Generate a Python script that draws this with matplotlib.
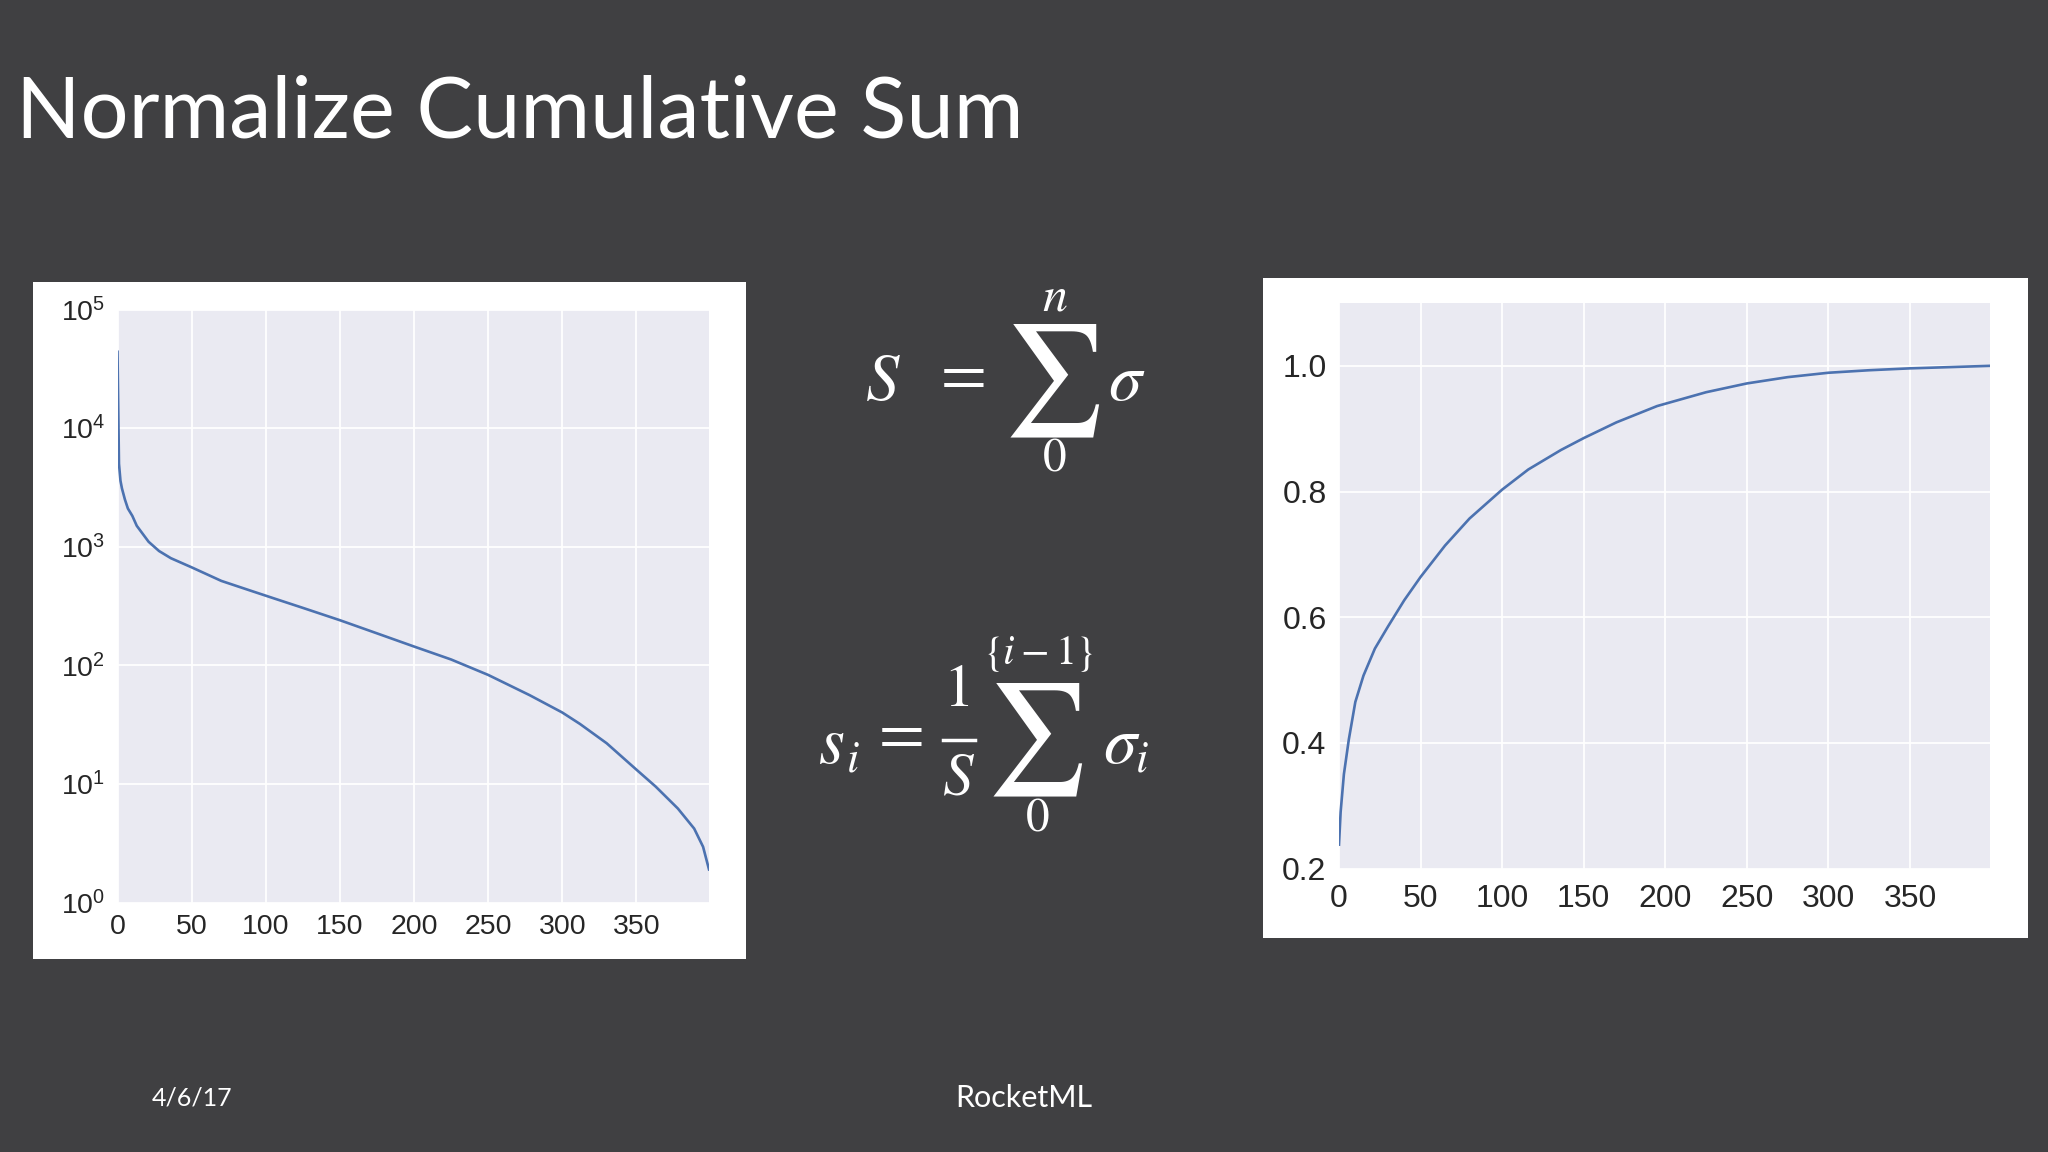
import matplotlib
matplotlib.use('Agg')
import matplotlib.pyplot as plt
from matplotlib.patches import Rectangle
from matplotlib.ticker import FixedLocator, NullLocator

# singular values (left, log scale)
sv_x = [0, 1, 2, 3, 5, 7, 10, 13, 21, 28, 36, 50, 70, 90, 106, 125, 150, 175,
        200, 225, 250, 278, 300, 312, 330, 350, 363, 378, 389, 395, 399]
sv_y = [44000, 5000, 3600, 3100, 2500, 2100, 1820, 1500, 1100, 920, 800, 670,
        515, 425, 365, 305, 240, 186, 144, 112, 83, 56, 40, 32, 22, 13.2, 9.5,
        6.2, 4.2, 2.95, 1.9]

# normalized cumulative sum (right)
cs_x = [0, 1, 3, 6, 10, 15, 22, 30, 40, 50, 65, 80, 100, 116, 136, 150, 170,
        195, 225, 250, 275, 300, 325, 350, 375, 399]
cs_y = [0.238, 0.29, 0.35, 0.405, 0.465, 0.507, 0.55, 0.585, 0.627, 0.664,
        0.714, 0.757, 0.803, 0.835, 0.866, 0.885, 0.910, 0.936, 0.958, 0.972,
        0.982, 0.989, 0.993, 0.996, 0.998, 1.0]

x_ticks = [0, 50, 100, 150, 200, 250, 300, 350]
log_ticks = [1, 10, 100, 1000, 10000, 100000]
log_labels = [r'$10^{0}$', r'$10^{1}$', r'$10^{2}$', r'$10^{3}$', r'$10^{4}$', r'$10^{5}$']
cs_ticks = [0.2, 0.4, 0.6, 0.8, 1.0]
cs_labels = ['0.2', '0.4', '0.6', '0.8', '1.0']

W, H = 2048, 1152
BG = '#404042'
plt.rcParams['mathtext.fontset'] = 'custom'
plt.rcParams['mathtext.rm'] = 'Liberation Sans'
plt.rcParams['mathtext.it'] = 'Liberation Sans:italic'

fig = plt.figure(figsize=(W / 100, H / 100), dpi=100, facecolor=BG)


def box(x0, y0, x1, y1):
    # pixel box (top-left origin) -> figure fraction rect
    return [x0 / W, 1 - y1 / H, (x1 - x0) / W, (y1 - y0) / H]


def pt(x, y):
    return x / W, 1 - y / H


# white panels behind the two plots
for b in [box(33, 282, 746, 959), box(1263, 278, 2028, 938)]:
    fig.add_artist(Rectangle((b[0], b[1]), b[2], b[3], transform=fig.transFigure,
                             facecolor='white', edgecolor='none', zorder=-1))


def style(ax):
    ax.set_facecolor('#EAEAF2')
    for s in ax.spines.values():
        s.set_visible(False)
    ax.grid(True, color='white', linewidth=1.3)
    ax.set_axisbelow(True)
    ax.tick_params(length=0, colors='#262626')


# left: singular values on log scale
ax1 = fig.add_axes(box(117.5, 309.5, 709, 902.5))
style(ax1)
ax1.plot(sv_x, sv_y, color='#4C72B0', linewidth=1.9)
ax1.set_yscale('log')
ax1.set_ylim(1, 1e5)
ax1.set_xlim(0, 399)
ax1.set_xticks(x_ticks)
ax1.yaxis.set_major_locator(FixedLocator(log_ticks))
ax1.yaxis.set_minor_locator(NullLocator())
ax1.set_yticklabels(log_labels)
ax1.tick_params(axis='y', pad=9)
ax1.tick_params(axis='x', pad=8)
for lab in ax1.get_xticklabels() + ax1.get_yticklabels():
    lab.set_fontfamily('Liberation Sans')
    lab.set_fontsize(20.5)

# right: normalized cumulative sum
ax2 = fig.add_axes(box(1339, 303, 1990, 868.5))
style(ax2)
ax2.plot(cs_x, cs_y, color='#4C72B0', linewidth=1.9)
ax2.set_xlim(0, 399)
ax2.set_ylim(0.2, 1.1)
ax2.set_xticks(x_ticks)
ax2.set_yticks(cs_ticks)
ax2.set_yticklabels(cs_labels)
ax2.tick_params(axis='y', pad=9)
ax2.tick_params(axis='x', pad=11)
for lab in ax2.get_xticklabels() + ax2.get_yticklabels():
    lab.set_fontfamily(['Liberation Sans Narrow', 'Liberation Sans'])
    lab.set_fontsize(23)

# slide title and footer
fig.text(*pt(16, 138), 'Normalize Cumulative Sum', color='white', fontsize=61,
         family='Lato', va='baseline', ha='left')
fig.text(*pt(192, 1098), '4/6/17', color='white', fontsize=18, family='Lato',
         va='center', ha='center')
fig.text(*pt(1024, 1098), 'RocketML', color='white', fontsize=22, family='Lato',
         va='center', ha='center')

# formulas
ser = 'STIXGeneral'
fig.text(*pt(883, 400), 'S', color='white', fontsize=48, family=ser, style='italic', ha='center', va='baseline')
fig.text(*pt(964, 380), '=', color='white', fontsize=48, family=ser, ha='center', va='center')
fig.text(*pt(1054, 380), '\u2211', color='white', fontsize=80, family=ser, ha='center', va='center')
fig.text(*pt(1055, 298), 'n', color='white', fontsize=36, family=ser, style='italic', ha='center', va='center')
fig.text(*pt(1055, 460), '0', color='white', fontsize=34, family=ser, ha='center', va='center')
fig.text(*pt(1125, 400), '\u03c3', color='white', fontsize=48, family=ser, style='italic', ha='center', va='baseline')

fig.text(*pt(832, 763), 's', color='white', fontsize=48, family=ser, style='italic', ha='center', va='baseline')
fig.text(*pt(853, 771), 'i', color='white', fontsize=32, family=ser, style='italic', ha='center', va='baseline')
fig.text(*pt(902, 739), '=', color='white', fontsize=48, family=ser, ha='center', va='center')
fig.text(*pt(959, 692), '1', color='white', fontsize=44, family=ser, ha='center', va='center')
fig.add_artist(plt.Line2D([943 / W, 975 / W], [1 - 740 / H, 1 - 740 / H], color='white',
                          linewidth=2.5, transform=fig.transFigure))
fig.text(*pt(958, 780), 'S', color='white', fontsize=44, family=ser, style='italic', ha='center', va='center')
fig.text(*pt(1037, 739), '\u2211', color='white', fontsize=80, family=ser, ha='center', va='center')
fig.text(*pt(1038, 653), r'$\{i-1\}$', color='white', fontsize=30, math_fontfamily='stix',
         ha='center', va='center')
fig.text(*pt(1038, 820), '0', color='white', fontsize=34, family=ser, ha='center', va='center')
fig.text(*pt(1120, 763), '\u03c3', color='white', fontsize=48, family=ser, style='italic', ha='center', va='baseline')
fig.text(*pt(1142, 771), 'i', color='white', fontsize=32, family=ser, style='italic', ha='center', va='baseline')

fig.savefig('out.png', dpi=100, facecolor=BG)
